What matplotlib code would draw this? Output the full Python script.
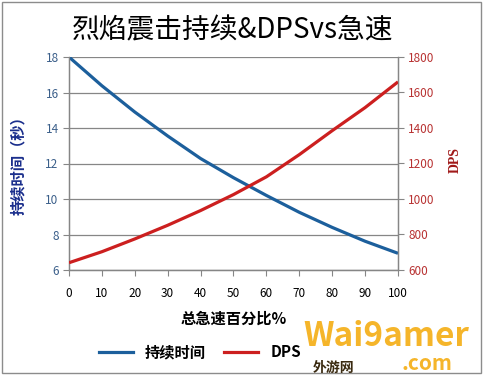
import matplotlib
matplotlib.use("Agg")
import matplotlib.pyplot as plt
from matplotlib.lines import Line2D

plt.rcParams['font.family'] = ['Noto Sans CJK SC', 'DejaVu Sans']

# ------------------------------------------------------------------------
# DATA
# ------------------------------------------------------------------------
haste_pct   = [0, 10, 20, 30, 40, 50, 60, 70, 80, 90, 100]
duration_s  = [18.0, 16.38, 14.9, 13.55, 12.28, 11.2, 10.2, 9.25, 8.4, 7.62, 6.94]
dps_values  = [641, 703, 775, 852, 935, 1025, 1125, 1250, 1385, 1515, 1660]

title_text  = "烈焰震击持续&DPSvs急速"
xlabel_text = "总急速百分比%"
ylabel_left = "持续时间（秒）"
ylabel_right = "DPS"
legend_labels = ["持续时间", "DPS"]

BLUE = "#1c5f9c"
RED = "#cc1f1f"
GRID = "#868686"

# ------------------------------------------------------------------------
# FIGURE
# ------------------------------------------------------------------------
fig = plt.figure(figsize=(4.85, 3.78), dpi=100)
ax = fig.add_axes([69 / 485, 1 - 270 / 378, (398 - 69) / 485, (270 - 57) / 378])
ax2 = ax.twinx()

ax.plot(haste_pct, duration_s, color=BLUE, lw=2.3, solid_capstyle='butt', zorder=3)
ax2.plot(haste_pct, dps_values, color=RED, lw=2.3, solid_capstyle='butt', zorder=3)

ax.set_xlim(0, 100)
ax.set_ylim(6, 18)
ax2.set_ylim(600, 1800)
ax.set_xticks(range(0, 101, 10))
ax.set_yticks(range(6, 19, 2))
ax2.set_yticks(range(600, 1801, 200))

ax.yaxis.grid(True, color=GRID, lw=0.9)
ax.set_axisbelow(True)

for a in (ax, ax2):
    for side in ("top",):
        a.spines[side].set_visible(False)
    for side in ("left", "right", "bottom"):
        a.spines[side].set_color(GRID)
        a.spines[side].set_linewidth(0.9)

ax.tick_params(axis='x', colors=GRID, labelcolor='black', labelsize=8.5,
               length=4, pad=8)
ax.tick_params(axis='y', colors=GRID, labelcolor='#3b5f8a', labelsize=8.5,
               length=4)
ax2.tick_params(axis='y', colors=GRID, labelcolor='#b83232', labelsize=8.5,
                length=4)

fig.text(233 / 485, 1 - 30 / 378, title_text, fontsize=20,
         ha='center', va='center', color='black')
ax.set_xlabel(xlabel_text, fontsize=11, fontweight='bold', labelpad=8)
fig.text(18 / 485, 1 - 162 / 378, ylabel_left, rotation=90, fontsize=11,
         fontweight='bold', color='#1a2e8c', ha='center', va='center')
fig.text(455 / 485, 1 - 160 / 378, ylabel_right, rotation=90, fontsize=10,
         fontweight='bold', color='#a01818', ha='center', va='center',
         family=['Liberation Serif', 'DejaVu Serif'])

handles = [Line2D([0], [0], color=BLUE, lw=2.3),
           Line2D([0], [0], color=RED, lw=2.3)]
fig.legend(handles, legend_labels, loc='center', ncol=2,
           bbox_to_anchor=(200 / 485, 1 - 352 / 378), frameon=False,
           prop={'size': 11, 'weight': 'bold'}, handlelength=2.2,
           columnspacing=1.2)

# watermark
fig.text(386 / 485, 1 - 337 / 378, "Wai9amer", fontsize=24, fontweight='bold',
         color='#f5b52a', ha='center', va='center', style='italic')
fig.text(427 / 485, 1 - 364 / 378, ".com", fontsize=15, fontweight='bold',
         color='#f5b52a', ha='center', va='center')
fig.text(334 / 485, 1 - 368 / 378, "外游网", fontsize=10, fontweight='bold',
         color='#3a2a10', ha='center', va='center')

# outer border
fig.patches.append(plt.Rectangle((2 / 485, 5 / 378), 479 / 485, 371 / 378,
                                 transform=fig.transFigure, fill=False,
                                 edgecolor='#8c8c8c', lw=1.0))

plt.savefig("out.png", dpi=100)
plt.close()
